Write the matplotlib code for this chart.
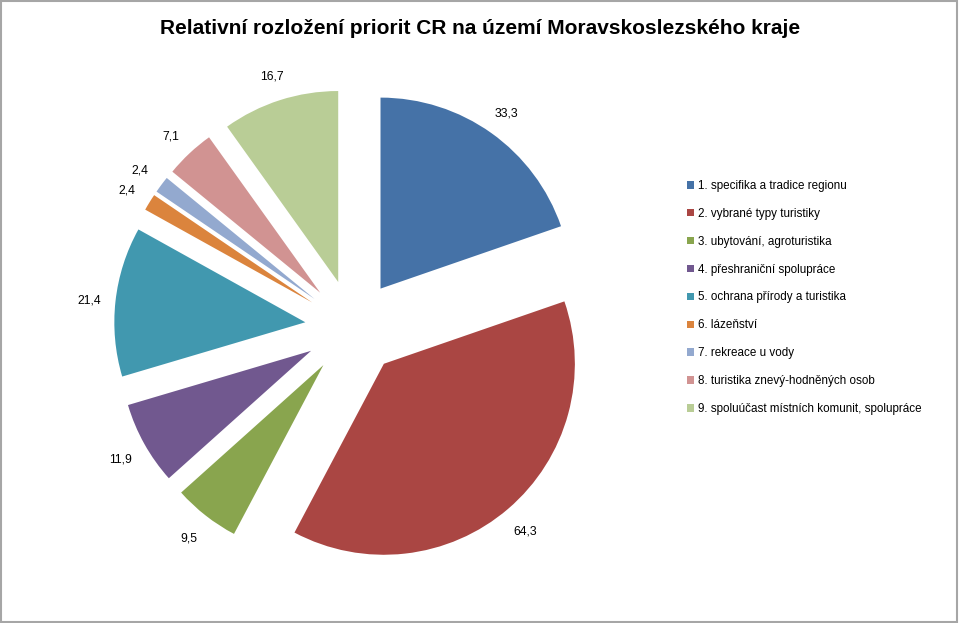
import matplotlib.pyplot as plt
from matplotlib.patches import Rectangle

plt.rcParams['font.family'] = ['Liberation Sans', 'DejaVu Sans']

# data
kategorie = [
    "1. specifika a tradice regionu",
    "2. vybrané typy turistiky",
    "3. ubytování, agroturistika",
    "4. přeshraniční spolupráce",
    "5. ochrana přírody a turistika",
    "6. lázeňství",
    "7. rekreace u vody",
    "8. turistika znevý-hodněných osob",
    "9. spoluúčast místních komunit, spolupráce",
]
hodnoty = [33.3, 64.3, 9.5, 11.9, 21.4, 2.4, 2.4, 7.1, 16.7]
barvy = ["#4572A7", "#AA4643", "#89A54E", "#71588F", "#4198AF",
         "#DB843D", "#93A9CF", "#D19392", "#B9CD96"]

popisky = [f"{v:.1f}".replace(".", ",") for v in hodnoty]

fig = plt.figure(figsize=(9.6, 6.23), dpi=100)
ax = fig.add_axes([0, 0, 1, 1])

wedges, texts = ax.pie(hodnoty, labels=popisky, colors=barvy,
                       startangle=90, counterclock=False,
                       explode=[0.25] * len(hodnoty), radius=1,
                       labeldistance=1.14,
                       textprops={'ha': 'center', 'va': 'center',
                                  'fontsize': 8.8, 'color': '#000000'})

# labels sit a touch lower in the original
for t in texts:
    x, y = t.get_position()
    t.set_position((x, y - 0.012))

# scale: ~191 px per unit, pie centre at (353, 327) px
s = 191.0
cx, cy = 352.8, 327.5
ax.set_xlim(-cx / s, (960 - cx) / s)
ax.set_ylim(-(623 - cy) / s, cy / s)
ax.set_aspect('auto')
ax.axis('off')

fig.text(0.5, 1 - 28 / 623, "Relativní rozložení priorit CR na území Moravskoslezského kraje",
         ha='center', va='center', fontsize=15, fontweight='bold')

ax.legend(wedges, kategorie, loc='upper left',
          bbox_to_anchor=(687 / 960, 1 - 180 / 623), bbox_transform=fig.transFigure,
          frameon=False, fontsize=8.4, handlelength=0.6, handleheight=0.6,
          handletextpad=0.3, labelspacing=1.36, borderpad=0, borderaxespad=0)

fig.patches.append(Rectangle((0.001, 0.002), 0.996, 0.996, transform=fig.transFigure,
                             fill=False, edgecolor='#a6a6a6', lw=1.5))

fig.savefig("out.png", dpi=100)
